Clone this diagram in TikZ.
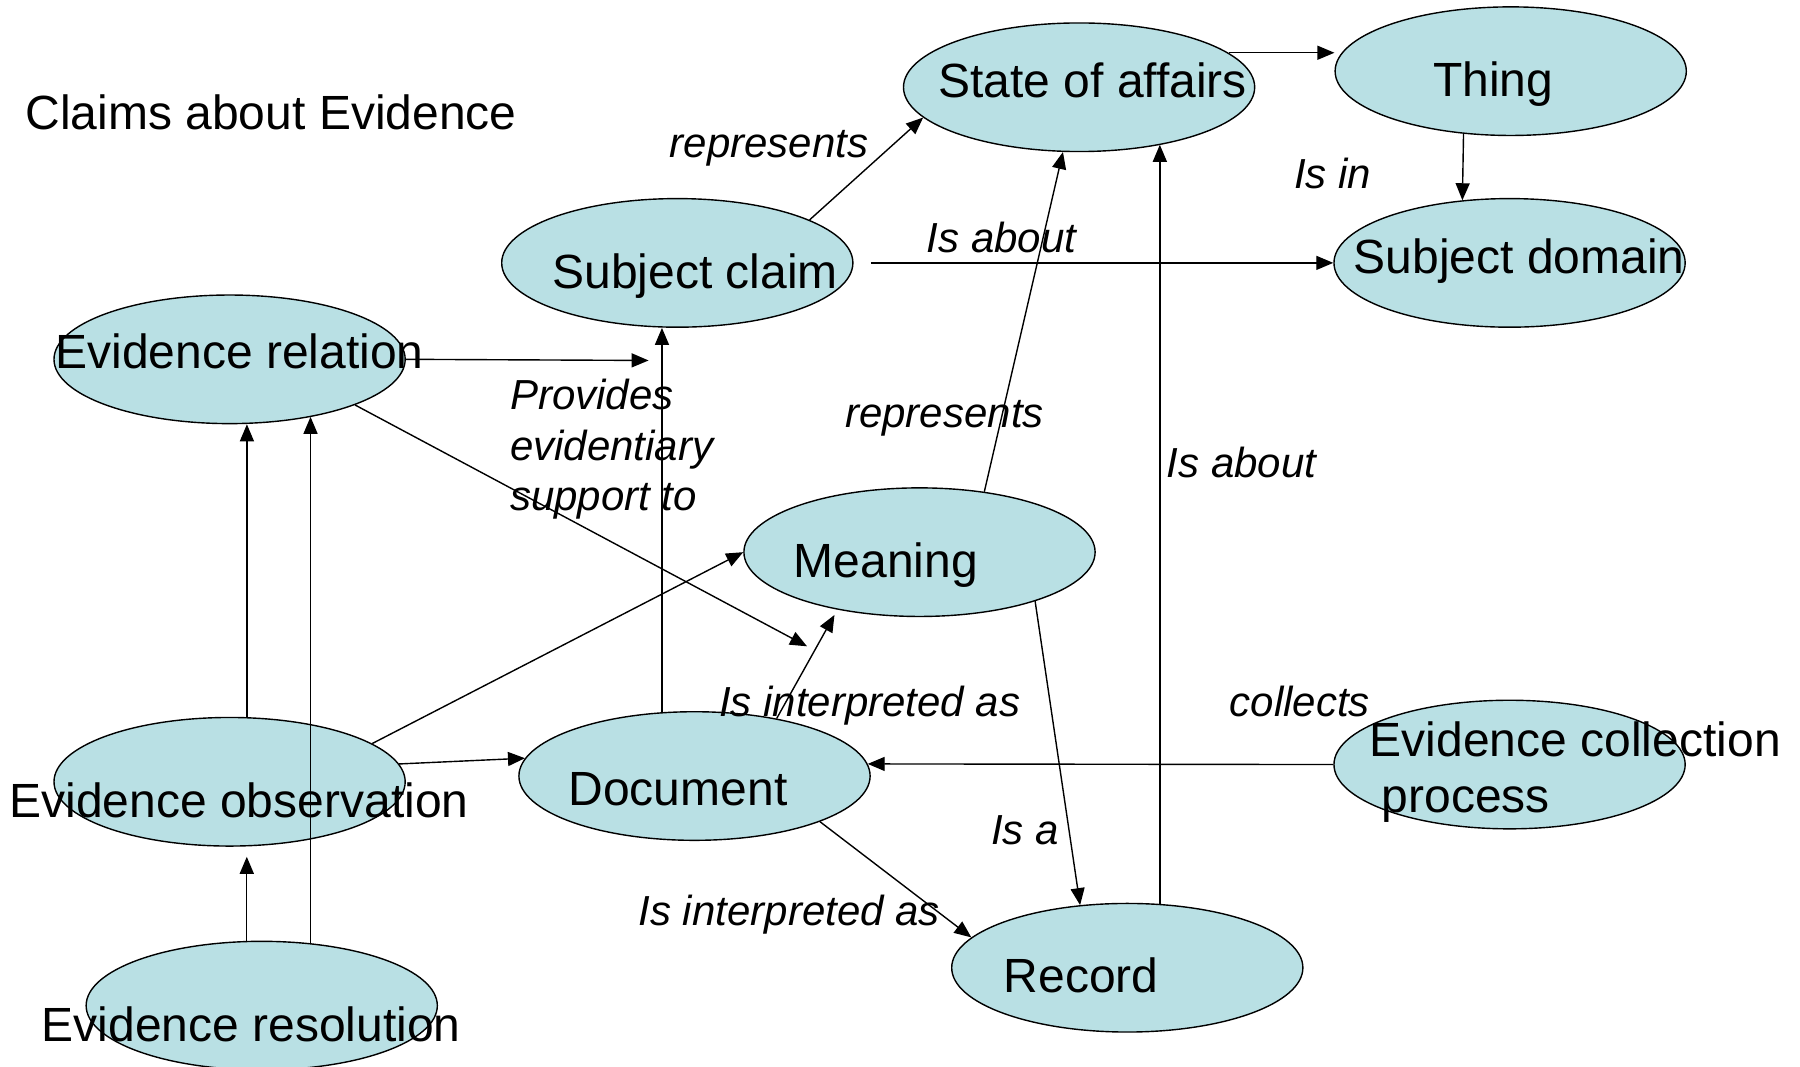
\documentclass[tikz,border=0pt]{standalone}
\usepackage{fontspec}
\setmainfont{Liberation Sans}
\usetikzlibrary{shapes.geometric, arrows.meta}
\definecolor{ovalfill}{RGB}{185,224,228}

\begin{document}
\begin{tikzpicture}[x = 0.574pt, y = -0.574pt,
  oval/.style = {ellipse, draw, line width = 0.7pt, fill = ovalfill,
    minimum width = 175.6pt, minimum height = 64.3pt, inner sep = 0pt},
  ovaltext/.style = {anchor = base west, inner sep = 0pt,
    font = \fontsize{24}{28.1}\selectfont},
  rel/.style = {anchor = base west, inner sep = 0pt,
    font = \fontsize{21}{25.3}\selectfont\itshape},
  arr/.style = {-{Triangle[length = 8.5pt, width = 7pt]}, line width = 0.7pt}]

\useasboundingbox (0, 0) rectangle (1568, 929);

\node [oval] (soa) at (940, 76) {};
\node [oval] (th) at (1316, 62) {};
\node [oval] (sd) at (1315, 229) {};
\node [oval] (sc) at (590, 229) {};
\node [oval] (er) at (200, 313) {};
\node [oval] (mng) at (801, 481) {};
\node [oval] (eo) at (200, 681) {};
\node [oval] (doc) at (605, 676) {};
\node [oval] (ecp) at (1315, 666) {};
\node [oval] (rec) at (982, 843) {};
\node [oval] (eres) at (228, 876) {};

\coordinate (sup) at (565, 314);
\coordinate (mng-in) at (703, 563);

\draw [arr] (sc.18) -- (soa.191);
\draw [arr] (soa.13) -- (soa.13 -| th.west);
\draw [arr] (th.233) -- (sd.127);
\draw [arr, shorten <= 8.6pt] (sc.east) -- (sd.west);
\draw [arr] (er.east) -- (sup);
\draw [arr] (doc.117) -- (doc.117 |- sc.south);
\draw [arr] (er.-20) -- (mng-in);
\draw [arr] (eo.75) -- (eo.75 |- er.south);
\draw [arr] (eres.52) -- (eres.52 |- er.-35);
\draw [arr, shorten >= 5pt] (eres.103) -- (eres.103 |- eo.south);
\draw [arr] (eo.15) -- (mng.west);
\draw [arr] (eo.6) -- (doc.174);
\draw [arr, shorten >= 3pt] (doc.35) -- (mng.215);
\draw [arr] (mng.43) -- (soa.256);
\draw [arr] (rec.63) -- (rec.63 |- soa.-35);
\draw [arr] (mng.-23) -- (rec.127);
\draw [arr] (doc.-20) -- (rec.169);
\draw [arr] (ecp.west) -- (doc.4);

\node [ovaltext] (title) at (22, 113) {Claims about Evidence};
\node [ovaltext] (soa-t) at (817, 85) {State of affairs};
\node [ovaltext] (th-t) at (1248, 84) {Thing};
\node [ovaltext] (sc-t) at (481, 251) {Subject claim};
\node [ovaltext] (sd-t) at (1179, 238) {Subject domain};
\node [ovaltext] (er-t) at (48, 321) {Evidence relation};
\node [ovaltext] (mng-t) at (691, 503) {Meaning};
\node [ovaltext] (eo-t) at (8, 712) {Evidence observation};
\node [ovaltext] (doc-t) at (495, 702) {Document};
\node [ovaltext, align = left] (ecp-t) at (1193, 708) {Evidence collection\\\hspace*{0.25em}process};
\node [ovaltext] (rec-t) at (874, 865) {Record};
\node [ovaltext] (eres-t) at (36, 907) {Evidence resolution};

\node [rel] (rep-a) at (583, 137) {represents};
\node [rel] (about-a) at (807, 220) {Is about};
\node [rel] (isin) at (1127, 164) {Is in};
\node [rel, align = left] (prov) at (444, 445) {Provides\\evidentiary\\support to};
\node [rel] (rep-b) at (736, 372) {represents};
\node [rel] (about-b) at (1016, 416) {Is about};
\node [rel] (interp-a) at (626, 624) {Is interpreted as};
\node [rel] (coll) at (1071, 624) {collects};
\node [rel] (isa) at (863, 736) {Is a};
\node [rel] (interp-b) at (556, 806) {Is interpreted as};

\end{tikzpicture}
\end{document}
